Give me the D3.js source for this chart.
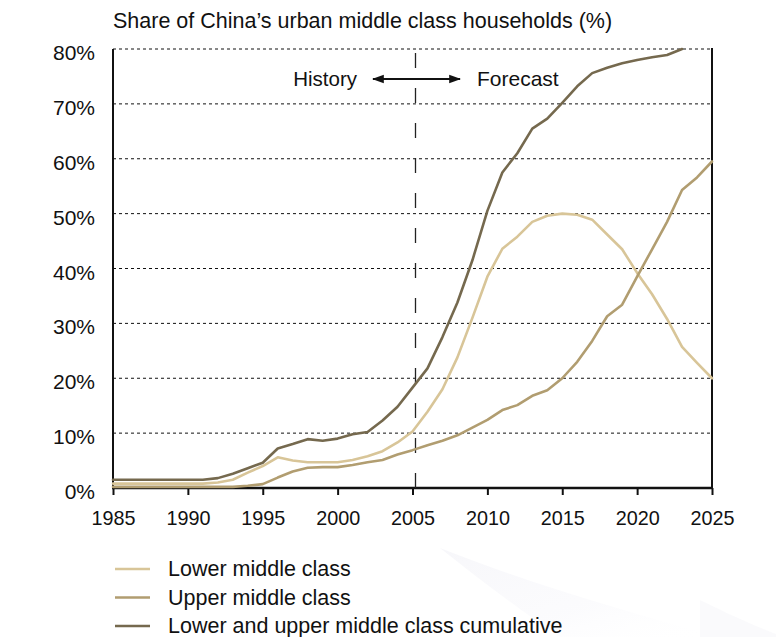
<!DOCTYPE html>
<html>
<head>
<meta charset="utf-8">
<script src="https://cdn.jsdelivr.net/npm/d3@7/dist/d3.min.js"></script>
<style>
  html, body { margin: 0; padding: 0; background: #fff; }
  svg { display: block; font-family: "Liberation Sans", Arial, Helvetica, sans-serif; }
</style>
</head>
<body>
<svg id="chart" width="776" height="637"></svg>
<script>
// Years on the x axis
const years = d3.range(1985, 2026);

// Shares of urban households (%), one value per year from 1985
const lowerMiddle = [
  0.8, 0.8, 0.8, 0.8, 0.8, 0.8, 0.8, 1.0, 1.5, 2.8,
  4.0, 5.6, 5.0, 4.7, 4.7, 4.7, 5.1, 5.8, 6.7, 8.3,
  10.3, 13.9, 18.0, 23.8, 31.0, 38.5, 43.6, 45.8, 48.5, 49.6,
  50.0, 49.8, 48.9, 46.2, 43.5, 39.2, 35.3, 30.8, 25.7, 22.8,
  20.0
];
const upperMiddle = [
  0.2, 0.2, 0.2, 0.2, 0.2, 0.2, 0.2, 0.2, 0.2, 0.4,
  0.7, 1.9, 3.0, 3.7, 3.8, 3.8, 4.2, 4.7, 5.1, 6.1,
  6.9, 7.8, 8.6, 9.6, 11.0, 12.4, 14.2, 15.1, 16.8, 17.8,
  20.0, 23.0, 26.8, 31.3, 33.4, 38.5, 43.5, 48.5, 54.3, 56.6,
  59.5
];
// Combined series runs off the top of the scale after 2023
const cumulative = [
  1.5, 1.5, 1.5, 1.5, 1.5, 1.5, 1.5, 1.8, 2.6, 3.6,
  4.6, 7.2, 8.0, 8.9, 8.6, 9.0, 9.8, 10.2, 12.3, 14.8,
  18.3, 21.8, 27.5, 33.8, 41.5, 50.5, 57.5, 61.0, 65.5, 67.3,
  70.2, 73.2, 75.6, 76.6, 77.4, 78.0, 78.5, 78.9, 80.0
];

const yTicks = [0, 10, 20, 30, 40, 50, 60, 70, 80];
const xTicks = [1985, 1990, 1995, 2000, 2005, 2010, 2015, 2020, 2025];
const splitYear = 2005;

const seriesNames = ["Lower middle class", "Upper middle class", "Lower and upper middle class cumulative"];
const seriesValues = [lowerMiddle, upperMiddle, cumulative];
const seriesColors = ["#d8c598", "#b19d70", "#75694e"];

const svg = d3.select("#chart");
const plotLeft = 113, plotRight = 712, plotTop = 49, plotBottom = 488;

const x = d3.scaleLinear().domain([1985, 2025]).range([plotLeft, plotRight]);
const y = d3.scaleLinear().domain([0, 80]).range([plotBottom, plotTop]);

// faint background swoosh in the lower right corner
const defs = svg.append("defs");
const grad = defs.append("linearGradient").attr("id", "swoosh")
  .attr("x1", "0").attr("y1", "0").attr("x2", "1").attr("y2", "1");
grad.append("stop").attr("offset", "0").attr("stop-color", "#f5f5f9").attr("stop-opacity", 0.8);
grad.append("stop").attr("offset", "0.6").attr("stop-color", "#f7f7fb").attr("stop-opacity", 0.45);
grad.append("stop").attr("offset", "1").attr("stop-color", "#ffffff").attr("stop-opacity", 0);
svg.append("path")
  .attr("d", "M440,548 C520,580 620,610 720,637 L560,637 C520,610 480,580 440,548 Z")
  .attr("fill", "url(#swoosh)");
svg.append("path")
  .attr("d", "M700,600 C730,615 760,628 776,634 L776,637 L700,637 Z")
  .attr("fill", "#f6f6fa").attr("opacity", 0.6);

// title
svg.append("text")
  .attr("x", plotLeft).attr("y", 28)
  .attr("font-size", 21.5).attr("fill", "#111")
  .text("Share of China\u2019s urban middle class households (%)");

// dotted gridlines
svg.append("g").selectAll("line")
  .data(yTicks.filter(d => d > 0))
  .join("line")
  .attr("x1", plotLeft).attr("x2", plotRight)
  .attr("y1", d => y(d)).attr("y2", d => y(d))
  .attr("stroke", "#111").attr("stroke-width", 1)
  .attr("stroke-dasharray", "3,3");

// y tick labels
svg.append("g").selectAll("text")
  .data(yTicks)
  .join("text")
  .attr("x", 95).attr("y", d => y(d) + 11)
  .attr("text-anchor", "end")
  .attr("font-size", 21).attr("fill", "#111")
  .text(d => d + "%");

// x axis with ticks and labels
const xAxis = d3.axisBottom(x)
  .tickValues(xTicks)
  .tickFormat(d3.format("d"))
  .tickSize(7)
  .tickPadding(16);
const gx = svg.append("g")
  .attr("transform", `translate(0,${plotBottom})`)
  .call(xAxis);
gx.select(".domain").remove();
gx.selectAll(".tick line").attr("stroke", "#111").attr("stroke-width", 2);
gx.selectAll(".tick text")
  .attr("font-size", 19.8).attr("fill", "#111")
  .attr("font-family", "Liberation Sans, Arial, sans-serif");

// frame: left and right verticals, bottom baseline
svg.append("line").attr("x1", plotLeft).attr("x2", plotLeft).attr("y1", plotTop).attr("y2", plotBottom + 1)
  .attr("stroke", "#111").attr("stroke-width", 2);
svg.append("line").attr("x1", plotRight).attr("x2", plotRight).attr("y1", plotTop - 1).attr("y2", plotBottom + 1)
  .attr("stroke", "#111").attr("stroke-width", 2);
svg.append("line").attr("x1", plotLeft - 1).attr("x2", plotRight + 1).attr("y1", plotBottom).attr("y2", plotBottom)
  .attr("stroke", "#111").attr("stroke-width", 2.5);

// history / forecast divider
svg.append("line")
  .attr("x1", x(splitYear) + 3).attr("x2", x(splitYear) + 3)
  .attr("y1", plotTop + 4).attr("y2", plotBottom)
  .attr("stroke", "#222").attr("stroke-width", 1.3)
  .attr("stroke-dasharray", "15,20");

// series lines
const line = d3.line()
  .x((d, i) => x(years[i]))
  .y(d => y(d));
svg.append("g").selectAll("path")
  .data(seriesValues)
  .join("path")
  .attr("d", d => line(d))
  .attr("fill", "none")
  .attr("stroke", (d, i) => seriesColors[i])
  .attr("stroke-width", 2.6)
  .attr("stroke-linejoin", "round")
  .attr("stroke-linecap", "round");

// history <-> forecast annotation
const arrowY = 79;
const marker = defs.append("marker").attr("id", "arrowhead")
  .attr("viewBox", "0 0 10 10").attr("refX", 9).attr("refY", 5)
  .attr("markerWidth", 6).attr("markerHeight", 6)
  .attr("markerUnits", "strokeWidth")
  .attr("orient", "auto-start-reverse");
marker.append("path").attr("d", "M0,1.5 L10,5 L0,8.5 Z").attr("fill", "#111");
svg.append("line")
  .attr("x1", 373).attr("x2", 460)
  .attr("y1", arrowY).attr("y2", arrowY)
  .attr("stroke", "#111").attr("stroke-width", 2)
  .attr("marker-start", "url(#arrowhead)")
  .attr("marker-end", "url(#arrowhead)");
svg.append("text")
  .attr("x", 357).attr("y", arrowY + 7)
  .attr("text-anchor", "end")
  .attr("font-size", 20.5).attr("fill", "#111")
  .text("History");
svg.append("text")
  .attr("x", 477).attr("y", arrowY + 7)
  .attr("font-size", 21).attr("fill", "#111")
  .text("Forecast");

// legend
const legend = svg.append("g").selectAll("g")
  .data(seriesNames)
  .join("g")
  .attr("transform", (d, i) => `translate(0,${569 + i * 28.5})`);
legend.append("line")
  .attr("x1", 115).attr("x2", 150)
  .attr("y1", 0).attr("y2", 0)
  .attr("stroke", (d, i) => seriesColors[i])
  .attr("stroke-width", 2.6);
legend.append("text")
  .attr("x", 168).attr("y", 7)
  .attr("font-size", 21.5).attr("fill", "#111")
  .text(d => d);
</script>
</body>
</html>
